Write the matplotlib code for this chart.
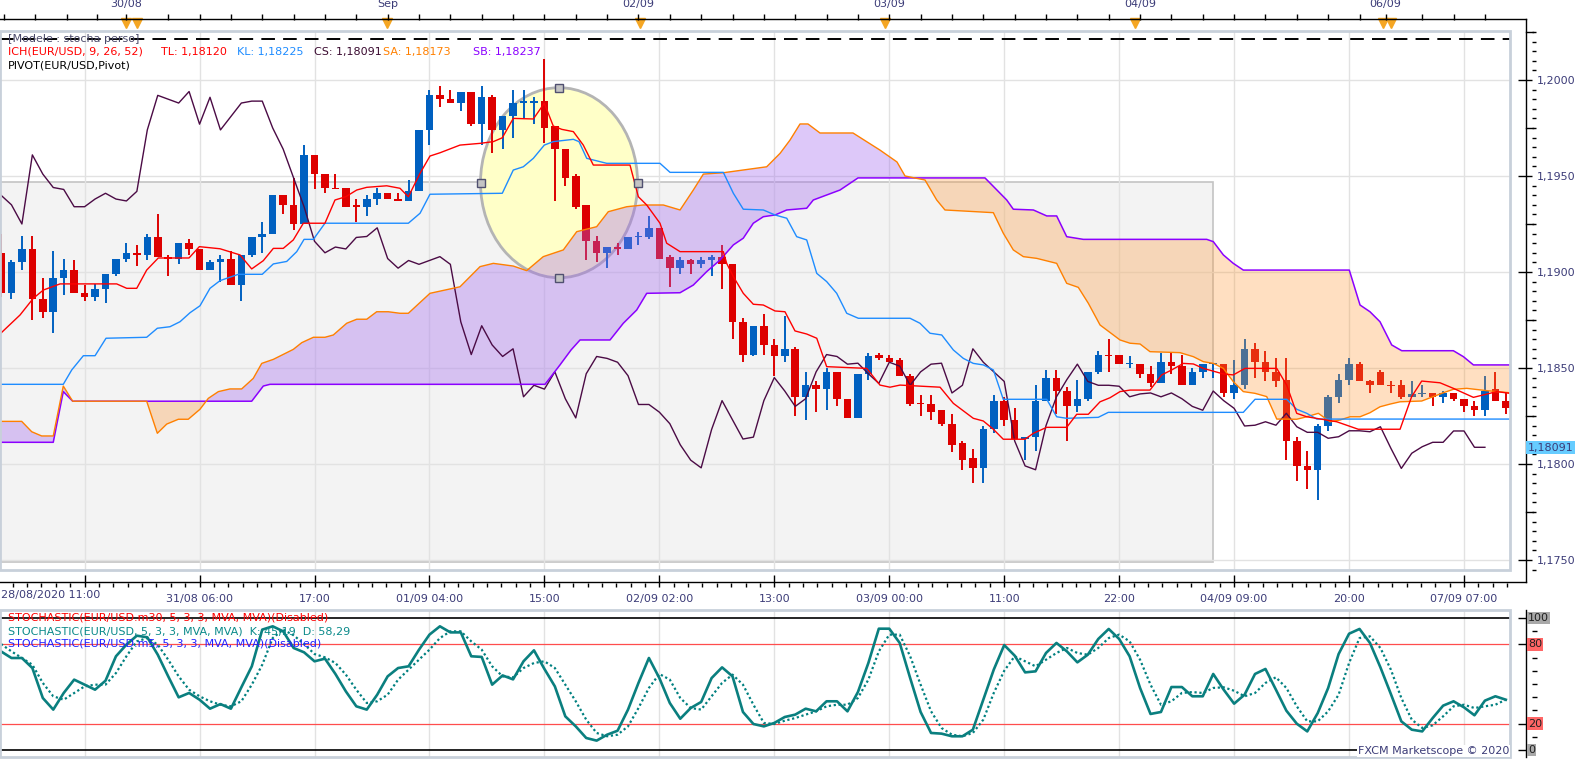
import numpy as np
import matplotlib
matplotlib.use("Agg")
import matplotlib.pyplot as plt
from matplotlib.patches import Rectangle, Ellipse
from matplotlib.lines import Line2D
from matplotlib.ticker import FixedLocator, FuncFormatter
import matplotlib.transforms as mtrans

plt.rcParams['font.family'] = ['DejaVu Sans']

# ---------------- data (EUR/USD H1) ----------------
opens = [1.1910, 1.1889, 1.1905, 1.1912, 1.1886, 1.1879, 1.1897, 1.1901, 1.1889, 1.1887,
         1.1891, 1.1899, 1.1907, 1.1910, 1.1909, 1.1918, 1.1908, 1.1907, 1.1915, 1.1912,
         1.1901, 1.1905, 1.1907, 1.1893, 1.1909, 1.1918, 1.1920, 1.1940, 1.1935, 1.1925,
         1.1961, 1.1951, 1.1944, 1.1944, 1.1935, 1.1934, 1.1938, 1.1941, 1.1938, 1.1937,
         1.1942, 1.1974, 1.1992, 1.1990, 1.1988, 1.1994, 1.1977, 1.1991, 1.1974, 1.1981,
         1.1988, 1.1988, 1.1989, 1.1976, 1.1964, 1.1950, 1.1935, 1.1916, 1.1910, 1.1913,
         1.1912, 1.1918, 1.1918, 1.1923, 1.1908, 1.1902, 1.1906, 1.1904, 1.1906, 1.1908,
         1.1904, 1.1874, 1.1857, 1.1872, 1.1862, 1.1856, 1.1860, 1.1835, 1.1841, 1.1839,
         1.1848, 1.1834, 1.1824, 1.1847, 1.1857, 1.1855, 1.1854, 1.1846, 1.1832, 1.1831,
         1.1828, 1.1821, 1.1811, 1.1803, 1.1798, 1.1818, 1.1833, 1.1823, 1.1813, 1.1814,
         1.1833, 1.1845, 1.1838, 1.1830, 1.1834, 1.1848, 1.1857, 1.1857, 1.1852, 1.1852,
         1.1847, 1.1842, 1.1853, 1.1851, 1.1841, 1.1848, 1.1852, 1.1852, 1.1837, 1.1841,
         1.1860, 1.1853, 1.1848, 1.1844, 1.1812, 1.1799, 1.1797, 1.1820, 1.1835, 1.1844,
         1.1852, 1.1843, 1.1848, 1.1841, 1.1841, 1.1835, 1.18365, 1.1837, 1.1835, 1.1837,
         1.1834, 1.1830, 1.1828, 1.1839, 1.1833]
highs = [1.1920, 1.1906, 1.1919, 1.1919, 1.1897, 1.1911, 1.1907, 1.1906, 1.1893, 1.1894,
         1.1899, 1.1907, 1.1915, 1.1914, 1.1920, 1.1930, 1.1909, 1.1915, 1.1917, 1.1912,
         1.1906, 1.1909, 1.1911, 1.1909, 1.1918, 1.1926, 1.1940, 1.1940, 1.1949, 1.1966,
         1.1961, 1.1951, 1.1951, 1.1944, 1.1938, 1.1940, 1.1944, 1.1941, 1.1941, 1.1948,
         1.1974, 1.1995, 1.1997, 1.1995, 1.1994, 1.1994, 1.1997, 1.1992, 1.1981, 1.1995,
         1.1995, 1.1991, 1.2011, 1.1976, 1.1964, 1.1951, 1.1935, 1.1919, 1.1913, 1.1915,
         1.1918, 1.1921, 1.1929, 1.1923, 1.1909, 1.1908, 1.1907, 1.1908, 1.1909, 1.1914,
         1.1904, 1.1876, 1.1872, 1.1878, 1.1865, 1.1877, 1.1861, 1.1848, 1.1843, 1.1850,
         1.1848, 1.1834, 1.1847, 1.1858, 1.1858, 1.1857, 1.1855, 1.1847, 1.1836, 1.1836,
         1.1828, 1.1826, 1.1812, 1.1808, 1.1820, 1.1836, 1.1835, 1.1829, 1.1814, 1.1841,
         1.1849, 1.1849, 1.1840, 1.1844, 1.1848, 1.1859, 1.1865, 1.1857, 1.1856, 1.1852,
         1.1851, 1.1858, 1.1858, 1.1857, 1.1850, 1.1852, 1.1852, 1.1852, 1.1854, 1.1865,
         1.1863, 1.1859, 1.1855, 1.1855, 1.1814, 1.1807, 1.1821, 1.1836, 1.1847, 1.1855,
         1.1853, 1.1844, 1.1849, 1.1843, 1.1844, 1.1843, 1.1841, 1.1837, 1.1838, 1.1837,
         1.1834, 1.1833, 1.1846, 1.1848, 1.1837]
lows = [1.1887, 1.1886, 1.1901, 1.1875, 1.1876, 1.1868, 1.1888, 1.1889, 1.1885, 1.1885,
        1.1884, 1.1898, 1.1905, 1.1903, 1.1906, 1.1908, 1.1898, 1.1904, 1.1909, 1.1901,
        1.1901, 1.1895, 1.1893, 1.1885, 1.1908, 1.1910, 1.1920, 1.1930, 1.1922, 1.1925,
        1.1943, 1.1941, 1.1943, 1.1934, 1.1926, 1.1929, 1.1935, 1.1938, 1.1937, 1.1937,
        1.1942, 1.1966, 1.1986, 1.1988, 1.1984, 1.1976, 1.1966, 1.1962, 1.1964, 1.1970,
        1.1980, 1.1977, 1.1967, 1.1937, 1.1945, 1.1933, 1.1906, 1.1905, 1.1902, 1.1909,
        1.1912, 1.1914, 1.1917, 1.1907, 1.1892, 1.1899, 1.1899, 1.1902, 1.1898, 1.1891,
        1.1865, 1.1853, 1.1856, 1.1857, 1.1846, 1.1853, 1.1825, 1.1823, 1.1827, 1.1828,
        1.1830, 1.1824, 1.1824, 1.1844, 1.1854, 1.1853, 1.1846, 1.1830, 1.1825, 1.1823,
        1.1820, 1.1806, 1.1797, 1.1790, 1.1790, 1.1816, 1.1820, 1.1813, 1.1802, 1.1807,
        1.1833, 1.1826, 1.1812, 1.1827, 1.1833, 1.1847, 1.1848, 1.1852, 1.1850, 1.1845,
        1.1840, 1.1842, 1.1847, 1.1841, 1.1841, 1.1845, 1.1845, 1.1835, 1.1834, 1.1839,
        1.1845, 1.1843, 1.1840, 1.1802, 1.1791, 1.1787, 1.1781, 1.1817, 1.1832, 1.1841,
        1.1843, 1.1837, 1.1841, 1.1837, 1.1834, 1.1835, 1.1835, 1.1830, 1.1832, 1.1833,
        1.1827, 1.1825, 1.1825, 1.1833, 1.1826]
closes = [1.1889, 1.1905, 1.1912, 1.1886, 1.1879, 1.1897, 1.1901, 1.1889, 1.1887, 1.1891,
          1.1899, 1.1907, 1.1910, 1.1909, 1.1918, 1.1908, 1.1907, 1.1915, 1.1912, 1.1901,
          1.1905, 1.1907, 1.1893, 1.1909, 1.1918, 1.1920, 1.1940, 1.1935, 1.1925, 1.1961,
          1.1951, 1.1944, 1.1943, 1.1934, 1.1934, 1.1938, 1.1941, 1.1938, 1.1937, 1.1942,
          1.1974, 1.1992, 1.1990, 1.1988, 1.1994, 1.1977, 1.1991, 1.1974, 1.1981, 1.1988,
          1.1989, 1.1989, 1.1975, 1.1964, 1.1949, 1.1934, 1.1916, 1.1910, 1.1913, 1.1912,
          1.1918, 1.19185, 1.1923, 1.1907, 1.1902, 1.1906, 1.1904, 1.1906, 1.1908, 1.1904,
          1.1874, 1.1857, 1.1872, 1.1862, 1.1856, 1.1860, 1.1835, 1.1841, 1.1839, 1.1848,
          1.1834, 1.1824, 1.1847, 1.1856, 1.1855, 1.1853, 1.1846, 1.1831, 1.1831, 1.1827,
          1.1821, 1.1810, 1.1802, 1.1798, 1.1818, 1.1833, 1.1823, 1.1813, 1.1814, 1.1833,
          1.1845, 1.1838, 1.1830, 1.1834, 1.1848, 1.1857, 1.1856, 1.1852, 1.18525, 1.1847,
          1.1842, 1.1853, 1.1851, 1.1841, 1.1848, 1.1852, 1.18525, 1.1837, 1.1841, 1.1860,
          1.1853, 1.1848, 1.1843, 1.1812, 1.1799, 1.1797, 1.1820, 1.1835, 1.1844, 1.1852,
          1.1843, 1.1841, 1.1841, 1.18405, 1.1835, 1.18365, 1.1837, 1.1835, 1.1837, 1.1834,
          1.1830, 1.1828, 1.1838, 1.1833, 1.1829]

# chikou span values past the last close (bars 119..142)
chikou_tail = [1.18198, 1.18202, 1.18220, 1.18202, 1.18264, 1.18194, 1.18165, 1.18165,
               1.18134, 1.18142, 1.18173, 1.18173, 1.18168, 1.18194, 1.18082, 1.17977,
               1.18056, 1.18090, 1.18113, 1.18113, 1.18172, 1.18172, 1.18087, 1.18087]

# ichimoku line vertices: (bar, price)
tenkan_pts = [(-0.1, 1.18677), (1.82, 1.18776), (3.09, 1.18863), (4.05, 1.18906), (5.65, 1.18938),
              (11.07, 1.18938), (12.03, 1.18915), (12.99, 1.18915), (13.94, 1.1901), (15.05, 1.19073),
              (17.99, 1.19073), (18.98, 1.19132), (20.96, 1.19121), (22.87, 1.19089), (23.99, 1.19016),
              (25.1, 1.19059), (26.06, 1.19123), (27.01, 1.19123), (27.97, 1.19167), (28.93, 1.19254),
              (31.0, 1.19254), (31.96, 1.19375), (32.99, 1.19392), (34.04, 1.19427), (35.0, 1.19441),
              (36.91, 1.19449), (38.18, 1.19436), (38.98, 1.19392), (40.1, 1.19514), (41.05, 1.19604),
              (42.01, 1.19621), (43.92, 1.19661), (45.84, 1.1967), (47.11, 1.19679), (47.97, 1.19699),
              (49.02, 1.198), (50.94, 1.19797), (51.99, 1.19879), (52.85, 1.1976), (53.66, 1.19743),
              (54.77, 1.19731), (55.72, 1.19661), (56.68, 1.19557), (60.19, 1.19557), (60.99, 1.19392),
              (61.79, 1.19349), (63.06, 1.19254), (63.7, 1.1915), (64.98, 1.19106), (69.12, 1.19106),
              (69.44, 1.19045), (70.08, 1.18976), (71.03, 1.18889), (71.99, 1.18832), (72.95, 1.18828),
              (74.07, 1.18797), (75.02, 1.18793), (75.98, 1.18693), (77.1, 1.18677), (78.06, 1.18655),
              (79.01, 1.18507), (82.84, 1.18498), (84.11, 1.18411), (85.07, 1.184), (86.03, 1.18411),
              (89.86, 1.184), (91.13, 1.18316), (93.04, 1.18238), (94.0, 1.18224), (94.96, 1.18181),
              (95.91, 1.18129), (97.99, 1.18129), (98.79, 1.1816), (100.07, 1.18191), (101.98, 1.18191),
              (102.94, 1.18259), (104.05, 1.18259), (105.17, 1.18324), (106.12, 1.18345), (107.08, 1.18377),
              (108.04, 1.18385), (109.95, 1.18385), (111.07, 1.18464), (112.03, 1.1849), (113.14, 1.18524),
              (114.1, 1.18521), (115.05, 1.18498), (116.97, 1.18469), (117.92, 1.18464), (119.04, 1.18498),
              (122.08, 1.18498), (123.03, 1.18411), (123.99, 1.18264), (124.95, 1.18246), (126.86, 1.18229),
              (127.82, 1.1822), (129.88, 1.18181), (133.88, 1.18181), (134.99, 1.18351), (135.95, 1.18432),
              (137.7, 1.18423), (138.98, 1.18394), (140.9, 1.18347), (143.13, 1.18377), (144.4, 1.18368)]

kijun_pts = [(-0.1, 1.18415), (5.96, 1.18415), (6.77, 1.1849), (7.88, 1.18564), (9.0, 1.18564),
             (10.05, 1.18655), (13.94, 1.1866), (14.96, 1.18707), (16.17, 1.18715), (17.13, 1.18741),
             (18.09, 1.18788), (19.04, 1.18824), (20.0, 1.18915), (20.96, 1.18955), (22.71, 1.18988),
             (25.0, 1.18988), (26.06, 1.19042), (27.34, 1.19055), (28.3, 1.19106), (29.0, 1.1917),
             (29.89, 1.1917), (31.0, 1.19254), (38.98, 1.19254), (40.1, 1.19306), (41.05, 1.19405),
             (47.97, 1.1941), (49.02, 1.19531), (49.98, 1.19548), (50.94, 1.19592), (51.99, 1.19661),
             (52.85, 1.19679), (54.77, 1.19691), (55.31, 1.19679), (56.05, 1.19592), (57.96, 1.19566),
             (63.06, 1.19566), (64.02, 1.19519), (69.12, 1.19519), (70.08, 1.1941), (71.03, 1.19327),
             (72.95, 1.19323), (74.07, 1.19297), (75.19, 1.1928), (76.14, 1.19184), (77.1, 1.19167),
             (78.06, 1.18993), (79.01, 1.1895), (79.97, 1.18889), (80.93, 1.18785), (82.04, 1.18759),
             (86.99, 1.18759), (87.94, 1.18733), (88.9, 1.18681), (90.02, 1.18672), (91.13, 1.18594),
             (92.09, 1.1855), (93.04, 1.18524), (94.0, 1.18516), (94.96, 1.1849), (95.91, 1.18337),
             (100.07, 1.18337), (101.02, 1.18246), (101.98, 1.18238), (105.0, 1.18243), (105.96, 1.18269),
             (118.88, 1.18269), (120.0, 1.18337), (123.03, 1.18337), (123.99, 1.18285), (124.95, 1.18264),
             (125.91, 1.18234), (144.4, 1.18234)]

senkou_a_pts = [(-0.1, 1.18222), (1.98, 1.18222), (2.94, 1.18168), (3.89, 1.18146), (5.0, 1.18146),
                (5.96, 1.18406), (6.86, 1.18327), (13.94, 1.18327), (14.96, 1.1816), (15.86, 1.18208),
                (16.97, 1.18233), (17.92, 1.18233), (19.04, 1.18285), (19.84, 1.18342), (20.8, 1.18377),
                (21.91, 1.18391), (23.03, 1.18391), (24.14, 1.18446), (24.95, 1.18524), (26.06, 1.18545),
                (27.97, 1.18597), (28.78, 1.18632), (29.89, 1.1866), (31.0, 1.1866), (31.8, 1.18672),
                (33.08, 1.18733), (34.04, 1.18754), (35.0, 1.18754), (35.95, 1.18793), (37.06, 1.18793),
                (38.18, 1.18785), (38.98, 1.18785), (41.05, 1.18889), (43.92, 1.18923), (45.84, 1.19028),
                (47.11, 1.19045), (49.02, 1.19031), (50.3, 1.19007), (51.89, 1.1908), (53.81, 1.19115),
                (55.09, 1.1921), (57.0, 1.19236), (58.11, 1.19314), (59.88, 1.1934), (61.46, 1.19349),
                (63.38, 1.19349), (64.98, 1.19323), (66.25, 1.19427), (67.21, 1.1951), (69.12, 1.19517),
                (73.27, 1.19548), (74.55, 1.19618), (75.5, 1.19687), (76.46, 1.19771), (77.22, 1.19771),
                (78.37, 1.19724), (81.53, 1.19724), (84.11, 1.19635), (85.74, 1.19573), (86.51, 1.195),
                (88.42, 1.19479), (89.54, 1.19375), (90.33, 1.19323), (94.96, 1.19309), (95.91, 1.19202),
                (96.87, 1.19115), (97.83, 1.1908), (99.11, 1.19071), (101.02, 1.19045), (101.98, 1.18941),
                (103.09, 1.1892), (104.05, 1.18837), (105.17, 1.18724), (107.08, 1.18646), (108.04, 1.18629),
                (109.0, 1.18625), (109.95, 1.18585), (112.82, 1.1858), (114.1, 1.18559), (115.05, 1.18533),
                (116.01, 1.18524), (116.97, 1.18498), (117.92, 1.18429), (118.88, 1.18377), (120.0, 1.18368),
                (121.12, 1.18351), (122.08, 1.18234), (123.99, 1.18233), (124.95, 1.18246), (126.06, 1.18264),
                (127.18, 1.1822), (128.13, 1.18229), (129.09, 1.18246), (130.05, 1.18246), (131.0, 1.18267),
                (131.96, 1.18298), (132.92, 1.18312), (133.88, 1.18324), (135.95, 1.18328), (137.06, 1.18351),
                (138.02, 1.18371), (138.98, 1.18389), (140.26, 1.18394), (142.17, 1.18382), (144.4, 1.18371)]

senkou_b_pts = [(-0.1, 1.18113), (5.0, 1.18113), (5.96, 1.18377), (6.86, 1.18327), (23.99, 1.18327),
                (25.1, 1.18406), (25.74, 1.18415), (52.06, 1.18415), (53.49, 1.18516), (54.55, 1.18594),
                (55.41, 1.18646), (58.28, 1.18646), (59.55, 1.18733), (60.83, 1.18802), (61.79, 1.18889),
                (64.98, 1.18892), (66.25, 1.18932), (67.53, 1.19002), (68.8, 1.19062), (70.08, 1.19141),
                (71.03, 1.19176), (71.99, 1.19254), (72.95, 1.19288), (74.07, 1.19297), (75.19, 1.19323),
                (77.1, 1.19332), (77.73, 1.19375), (80.29, 1.19427), (82.01, 1.1949), (94.16, 1.1949),
                (96.24, 1.19375), (96.87, 1.19327), (98.79, 1.19323), (100.07, 1.19292), (101.02, 1.19292),
                (101.98, 1.19184), (103.57, 1.1917), (115.38, 1.1917), (116.01, 1.19158), (116.97, 1.19089),
                (117.92, 1.19045), (118.88, 1.1901), (129.02, 1.1901), (130.05, 1.18828), (131.0, 1.18793),
                (131.96, 1.18741), (133.08, 1.1862), (134.04, 1.1859), (138.98, 1.1859), (139.94, 1.18559),
                (140.9, 1.18516), (144.4, 1.18516)]

pivot_level = 1.20214

# stochastic %K and %D, one value per bar
stoch_k = [74.7, 69.7, 69.7, 62.1, 39.4, 30.6, 43.2, 53.3, 49.5, 45.7,
           52.5, 71.0, 79.8, 86.6, 85.4, 72.2, 55.8, 39.9, 43.2, 38.1,
           31.3, 34.8, 31.3, 47.5, 63.4, 91.2, 93.7, 89.9, 77.3, 74.0,
           67.2, 69.2, 57.6, 44.4, 33.1, 30.6, 41.9, 55.8, 62.1, 63.4,
           76.0, 87.4, 93.7, 89.1, 89.1, 71.0, 70.5, 49.5, 56.5, 53.5,
           67.2, 75.5, 61.4, 48.2, 25.5, 17.9, 9.1, 7.1, 11.6, 14.6,
           30.6, 50.8, 69.7, 54.5, 35.6, 23.7, 31.8, 36.4, 54.5, 62.6,
           55.8, 28.8, 19.7, 17.9, 20.5, 25.0, 26.8, 31.3, 29.3, 36.9,
           36.9, 29.3, 43.9, 65.9, 91.9, 91.9, 81.1, 54.5, 28.8, 12.9,
           12.4, 10.4, 10.4, 15.4, 38.1, 60.9, 79.5, 71.5, 58.8, 59.6,
           73.5, 81.1, 74.7, 66.4, 72.2, 84.1, 91.7, 84.1, 71.0, 47.0,
           27.3, 28.8, 47.7, 47.7, 40.7, 40.7, 57.6, 45.7, 35.1, 41.9,
           57.6, 61.4, 45.7, 29.8, 19.9, 14.1, 28.0, 47.0, 72.7, 88.1,
           91.7, 81.1, 62.6, 42.4, 21.7, 15.4, 14.1, 24.2, 33.6, 36.9,
           32.3, 26.3, 37.4, 40.7, 38.1]
stoch_d = [80.3, 74.7, 69.7, 64.6, 50.8, 40.7, 38.1, 43.2, 48.2, 49.5,
           49.5, 58.3, 71.0, 82.3, 84.8, 79.8, 68.4, 55.8, 45.7, 40.7,
           36.9, 34.3, 33.1, 36.9, 49.5, 64.6, 84.8, 91.2, 86.9, 80.3,
           72.7, 70.2, 65.9, 57.1, 45.7, 35.6, 36.9, 41.9, 53.3, 60.9,
           68.4, 76.0, 84.8, 89.9, 89.9, 82.3, 76.0, 63.4, 55.8, 55.0,
           62.1, 65.9, 67.2, 62.1, 49.5, 36.9, 23.0, 12.9, 10.4, 11.6,
           17.9, 31.8, 47.0, 57.6, 53.3, 39.4, 31.8, 30.6, 40.7, 50.8,
           57.1, 49.5, 34.3, 20.5, 19.7, 22.2, 24.2, 26.8, 29.3, 33.1,
           34.3, 34.3, 39.4, 53.3, 74.7, 87.4, 87.4, 71.0, 49.5, 29.3,
           16.7, 11.6, 10.4, 12.9, 23.0, 43.2, 60.0, 71.0, 67.2, 63.4,
           68.4, 73.5, 77.3, 73.5, 72.2, 77.3, 84.8, 87.4, 82.3, 68.4,
           49.5, 34.3, 36.9, 43.2, 43.9, 43.2, 47.0, 47.5, 44.9, 40.7,
           43.2, 50.8, 55.1, 47.0, 33.1, 21.7, 21.7, 29.3, 41.9, 65.9,
           84.8, 86.1, 77.3, 60.9, 39.4, 23.0, 16.7, 18.7, 25.5, 33.1,
           34.3, 31.8, 33.1, 34.3, 38.1]

# time axis
bottom_ticks = [8, 19, 30, 41, 52, 63, 74, 85, 96, 107, 118, 129, 140]
bottom_labels = ['', '31/08 06:00', '17:00', '01/09 04:00', '15:00', '02/09 02:00', '13:00',
                 '03/09 00:00', '11:00', '22:00', '04/09 09:00', '20:00', '07/09 07:00']
first_label = '28/08/2020 11:00'
top_ticks = [12, 37, 61, 85, 109, 132.5]
top_labels = ['30/08', 'Sep', '02/09', '03/09', '04/09', '06/09']
top_minor = [0.3, 3.3, 6.3, 9.2] + list(range(16, 131, 3)) + [136, 139, 142]
event_marks = [12.0, 13.0, 36.9, 61.1, 84.6, 108.5, 132.2, 133.0]

# ---------------- layout ----------------
W, H = 1583, 760
fx = lambda px: px / W
fy = lambda py: 1 - py / H
XMIN, XMAX = -0.096, 144.4
YMIN, YMAX = 1.174479, 1.202552

BLUE, RED = '#0060C0', '#DD0000'
LBL = '#3C3C78'
FRAME = '#C8D0DA'
GRID = '#E2E2E2'

fig = plt.figure(figsize=(W / 100, H / 100), dpi=100)
ax = fig.add_axes([0, fy(570), fx(1510), (570 - 31) / H])
ax2 = fig.add_axes([0, fy(757), fx(1510), (757 - 610) / H])

# ---------------- main panel ----------------
ax.set_xlim(XMIN, XMAX)
ax.set_ylim(YMIN, YMAX)
for s in ax.spines.values():
    s.set_visible(False)

ax.add_patch(Rectangle((-1, 1.17490), 116.95, 1.19471 - 1.17490, facecolor='#F3F3F3',
                       edgecolor='#C4C4C4', lw=1.2, zorder=0.5))
for p in np.arange(1.175, 1.2026, 0.005):
    ax.axhline(p, color=GRID, lw=1, zorder=0.8)
for b in bottom_ticks:
    ax.axvline(b, color=GRID, lw=1, zorder=0.8)

ax.add_patch(Ellipse((53.4, 1.19465), 15.03, 0.0099, facecolor='#FFFFC8', edgecolor='#B4B4B4',
                     lw=2, zorder=1))

o, h, l, c = map(np.array, (opens, highs, lows, closes))
idx = np.arange(len(o))
col = np.where(c >= o, BLUE, RED)
ax.vlines(idx, l, h, colors=col, lw=1.4, zorder=2)
body_h = np.maximum(np.abs(c - o), 0.00007)
ax.bar(idx, body_h, bottom=np.minimum(o, c), width=0.72, color=col, lw=0, zorder=2.1)

sa_x, sa_y = np.array(senkou_a_pts).T
sb_x, sb_y = np.array(senkou_b_pts).T
grid = np.linspace(XMIN, XMAX, 4000)
sa_i = np.interp(grid, sa_x, sa_y)
sb_i = np.interp(grid, sb_x, sb_y)
ax.fill_between(grid, sa_i, sb_i, where=sa_i >= sb_i, interpolate=True, color='#A064F0',
                alpha=0.35, lw=0, zorder=3)
ax.fill_between(grid, sa_i, sb_i, where=sa_i < sb_i, interpolate=True, color='#FF9632',
                alpha=0.3, lw=0, zorder=3)

chikou = np.concatenate([c[26:], chikou_tail])
ax.plot(np.arange(len(chikou)), chikou, color='#4B0B45', lw=1.0, zorder=4)
ax.plot(sb_x, sb_y, color='#8B00FF', lw=1.1, zorder=4)
ax.plot(sa_x, sa_y, color='#FF8000', lw=1.0, zorder=4)
kx, ky = np.array(kijun_pts).T
ax.plot(kx, ky, color='#1E8CFF', lw=1.0, zorder=4.1)
tx, ty = np.array(tenkan_pts).T
ax.plot(tx, ty, color='#FF0000', lw=1.0, zorder=4.2)

ax.axhline(pivot_level, color='black', lw=1.4, dashes=(7, 4.2), zorder=4)

hx = [53.4, 53.4, 45.9, 60.93]
hy = [1.1996, 1.1897, 1.19465, 1.19465]
ax.plot(hx, hy, 's', ms=5.5, mfc='#C4C4C4', mec='#505070', mew=1, zorder=5)

# right price axis
ax.yaxis.tick_right()
ax.spines['right'].set_position(('outward', 16))
ax.yaxis.set_major_locator(FixedLocator(np.arange(1.175, 1.2026, 0.005)))
ax.yaxis.set_major_formatter(FuncFormatter(lambda v, p: f'{v:.4f}'.replace('.', ',')))
minor_p = [p for p in np.arange(1.1745, 1.2026, 0.0005) if abs((p * 1000) % 5) > 0.1 and abs((p * 1000) % 5 - 5) > 0.1]
ax.yaxis.set_minor_locator(FixedLocator(minor_p))
ax.tick_params(axis='y', which='major', direction='in', length=10, width=1, pad=3,
               labelsize=8, labelcolor=LBL)
ax.tick_params(axis='y', which='minor', direction='out', length=3, width=1)

# bottom time axis
ax.spines['bottom'].set_position(('outward', 12))
ax.xaxis.set_major_locator(FixedLocator(bottom_ticks))
ax.set_xticklabels(bottom_labels)
ax.xaxis.set_minor_locator(FixedLocator([8 + 1.375 * j for j in range(-5, 100)
                                         if (8 + 1.375 * j) <= 144.4 and j % 8 != 0]))
ax.tick_params(axis='x', which='major', direction='in', length=8.6, width=1, pad=5,
               labelsize=8, labelcolor=LBL)
ax.tick_params(axis='x', which='minor', direction='in', length=3, width=1)
fig.text(fx(1), fy(595), first_label, fontsize=8, color=LBL, ha='left', va='center')

# top date axis
axt = ax.twiny()
axt.set_xlim(XMIN, XMAX)
for s in axt.spines.values():
    s.set_visible(False)
axt.spines['top'].set_position(('outward', 12))
axt.xaxis.set_major_locator(FixedLocator(top_ticks))
axt.set_xticklabels(top_labels)
axt.xaxis.set_minor_locator(FixedLocator(top_minor))
axt.tick_params(axis='x', which='both', direction='in', length=4.3, width=1, pad=4,
                labelsize=8, labelcolor=LBL)
tr = mtrans.blended_transform_factory(ax.transData, ax.transAxes)
ax.plot(event_marks, [1.0145] * len(event_marks), 'v', ms=6.5, color='#F5A623', mec='#F5A623',
        transform=tr, clip_on=False, zorder=6)

# frame and axis lines
ax.add_patch(Rectangle((0, 0), 1, 1, transform=ax.transAxes, fill=False, edgecolor=FRAME,
                       lw=2, clip_on=False, zorder=7))
for xs, ys in [([0, 1526], [19, 19]), ([1526, 1526], [19, 582]), ([0, 1526], [582, 582]),
               ([1526, 1526], [610, 757])]:
    fig.add_artist(Line2D([fx(v) for v in xs], [fy(v) for v in ys], color='black', lw=1))
for p in np.arange(1.1775, 1.2026, 0.005):
    ypx = 80 + (1.2 - p) * 19200
    fig.add_artist(Line2D([fx(1526), fx(1533)], [fy(ypx), fy(ypx)], color='black', lw=1))

fig.text(fx(1528), fy(447.7), '1,18091', fontsize=8, color=LBL, ha='left', va='center',
         bbox=dict(facecolor='#66CCFF', edgecolor='none', pad=1.2))

# legend texts
fig.text(fx(8), fy(39), '[Modele : stocha perso]', fontsize=8, color='#4A4A6A', va='center')
for txt, x, colr in [('ICH(EUR/USD, 9, 26, 52)', 8, '#FF0000'), ('TL: 1,18120', 161, '#FF0000'),
                     ('KL: 1,18225', 237, '#1E8CFF'), ('CS: 1,18091', 314, '#3A0A30'),
                     ('SA: 1,18173', 383, '#FF8000'), ('SB: 1,18237', 473, '#8B00FF')]:
    fig.text(fx(x), fy(52), txt, fontsize=8, color=colr, va='center')
fig.text(fx(8), fy(65), 'PIVOT(EUR/USD,Pivot)', fontsize=8, color='black', va='center')

# ---------------- stochastic panel ----------------
ax2.set_xlim(XMIN, XMAX)
ax2.set_ylim(-5.3, 106.06)
for s in ax2.spines.values():
    s.set_visible(False)
for b in bottom_ticks:
    ax2.axvline(b, color=GRID, lw=1, zorder=0.8)
ax2.axhline(100, color='black', lw=1.2, zorder=1)
ax2.axhline(0, color='black', lw=1.2, zorder=1)
ax2.axhline(80, color='#FF4D4D', lw=0.9, zorder=1)
ax2.axhline(20, color='#FF4D4D', lw=0.9, zorder=1)
sidx = np.arange(len(stoch_k))
ax2.plot(sidx, stoch_d, color='#008080', lw=1.6, ls=(0, (1, 1.2)), zorder=3)
ax2.plot(sidx, stoch_k, color='#0A7F7F', lw=1.9, zorder=3.1)

ax2.set_xticks([])
ax2.yaxis.tick_right()
ax2.spines['right'].set_position(('outward', 16))
ax2.yaxis.set_major_locator(FixedLocator([0, 20, 80, 100]))
ax2.yaxis.set_minor_locator(FixedLocator([10, 30, 40, 50, 60, 70, 90]))
ax2.tick_params(axis='y', which='major', direction='in', length=10, width=1, labelright=False)
ax2.tick_params(axis='y', which='minor', direction='out', length=3.5, width=1)
ax2.add_patch(Rectangle((0, 0), 1, 1, transform=ax2.transAxes, fill=False, edgecolor=FRAME,
                        lw=2, clip_on=False, zorder=7))
for v, bg in [(100, '#A8A8A8'), (80, '#FF6666'), (20, '#FF6666'), (0, '#A8A8A8')]:
    fig.text(fx(1528), fy(750 - 1.32 * v), str(v), fontsize=8, color='#202020', ha='left',
             va='center', bbox=dict(facecolor=bg, edgecolor='none', pad=0.8))

fig.text(fx(8), fy(618), 'STOCHASTIC(EUR/USD.m30, 5, 3, 3, MVA, MVA)(Disabled)', fontsize=8,
         color='#FF0000', va='center')
fig.text(fx(8), fy(631), 'STOCHASTIC(EUR/USD, 5, 3, 3, MVA, MVA)  K: 45,19  D: 58,29', fontsize=8,
         color='#0A8A8A', va='center')
fig.text(fx(8), fy(644), 'STOCHASTIC(EUR/USD.m5, 5, 3, 3, MVA, MVA)(Disabled)', fontsize=8,
         color='#2020FF', va='center')
fig.text(fx(1509), fy(751), 'FXCM Marketscope \u00a9 2020', fontsize=8, color=LBL, ha='right',
         va='center', bbox=dict(facecolor='white', edgecolor='none', pad=0.5))

fig.savefig('out.png', dpi=100)
